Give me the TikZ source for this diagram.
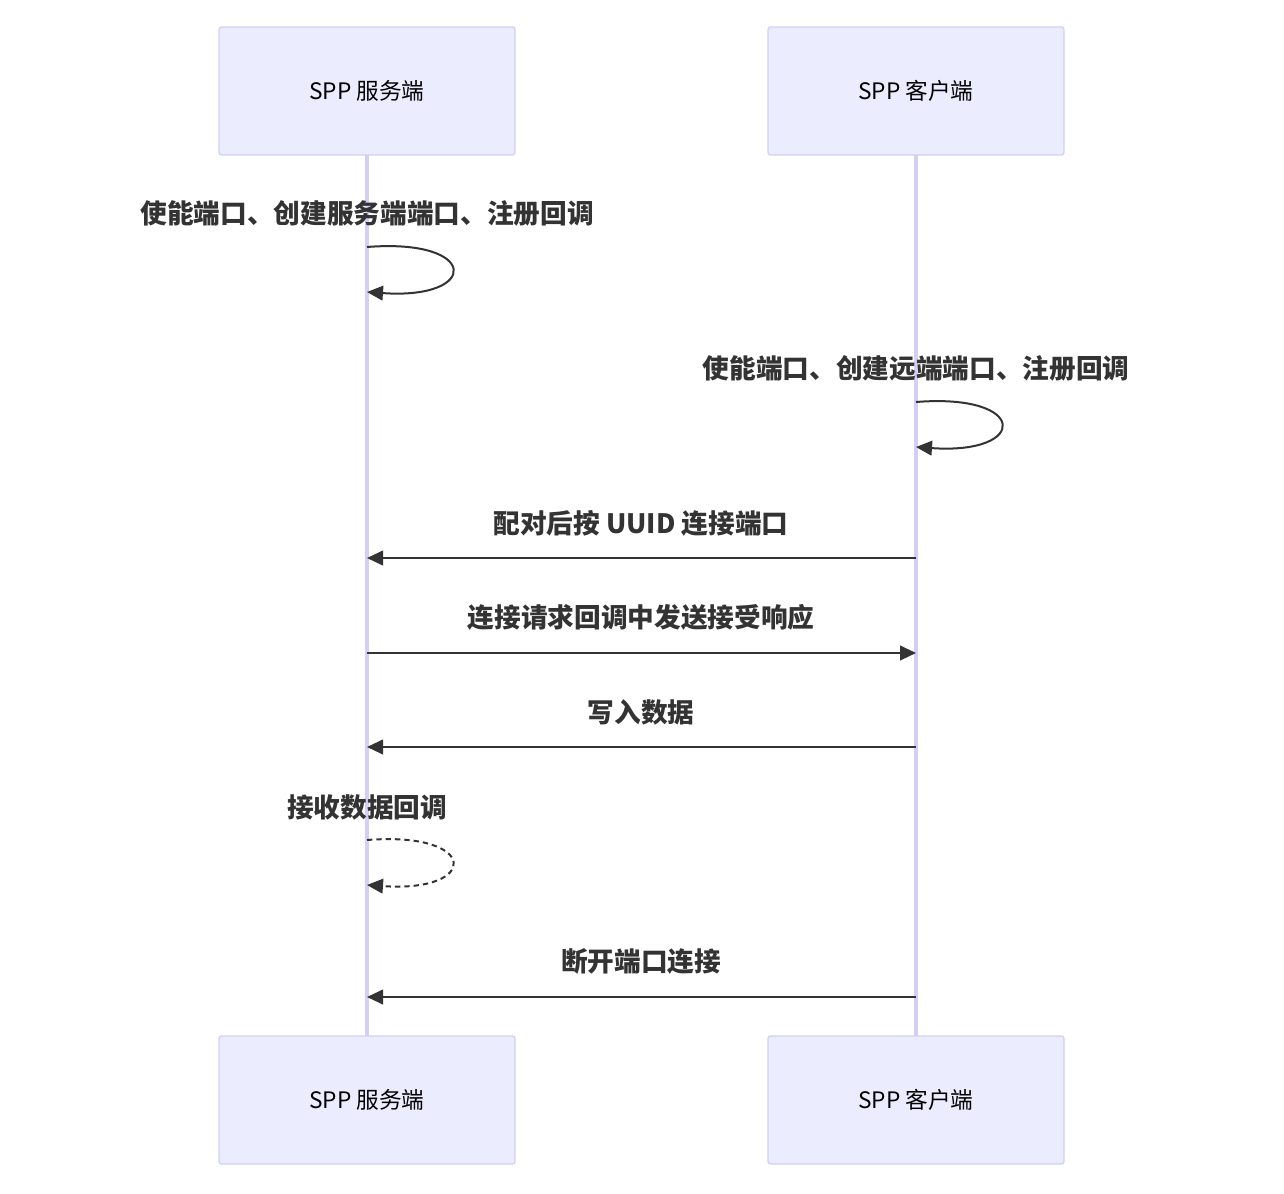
\documentclass[tikz,border=0pt]{standalone}
\usepackage{fontspec}
\setmainfont{Noto Sans CJK SC}
\usetikzlibrary{arrows.meta}
\definecolor{actfill}{HTML}{ECECFF}
\definecolor{actline}{HTML}{D3CFF5}
\definecolor{msgcol}{HTML}{333333}
\tikzset{
  actor/.style={draw=actline, fill=actfill, rounded corners=2pt, line width=1pt,
    minimum width=222pt, minimum height=96pt, font=\fontsize{17}{20}\selectfont, text=black},
  msg/.style={draw=msgcol, line width=1.5pt, -{Triangle[length=12pt,width=11pt]}},
  lbl/.style={font=\fontsize{20}{24}\selectfont\bfseries, text=msgcol},
}
\begin{document}
\begin{tikzpicture}[x=0.75pt,y=-0.75pt]
            \useasboundingbox (0,0) rectangle (1284,1194);

            % lifelines
            \draw[actline, line width=3pt] (367,155) -- (367,1037);
            \draw[actline, line width=3pt] (916,155) -- (916,1037);

            \node[actor] (srvTop) at (367,91) {SPP 服务端};
            \node[actor] (cliTop) at (916,91) {SPP 客户端};
            \node[actor] (srvBot) at (367,1100) {SPP 服务端};
            \node[actor] (cliBot) at (916,1100) {SPP 客户端};

            \coordinate (s1) at (367,247);
            \coordinate (s1e) at (367,292);
            \coordinate (c1) at (916,402);
            \coordinate (c1e) at (916,447);
            \coordinate (s3) at (367,840);
            \coordinate (s3e) at (367,885);
            \coordinate (c2) at (916,558);  \coordinate (s2) at (367,558);
            \coordinate (s4) at (367,653);  \coordinate (c4) at (916,653);
            \coordinate (c5) at (916,747);  \coordinate (s5) at (367,747);
            \coordinate (c6) at (916,997);  \coordinate (s6) at (367,997);

            \node[lbl] (lA) at (367,213) {使能端口、创建服务端端口、注册回调};
            \draw[msg] (s1) .. controls (480,238) and (480,300) .. (s1e);

            \node[lbl] (lB) at (916,368) {使能端口、创建远端端口、注册回调};
            \draw[msg] (c1) .. controls (1029,393) and (1029,455) .. (c1e);

            \node[lbl] (lC) at (641,523) {配对后按 UUID 连接端口};
            \draw[msg] (c2) -- (s2);

            \node[lbl] (lD) at (641,617) {连接请求回调中发送接受响应};
            \draw[msg] (s4) -- (c4);

            \node[lbl] (lE) at (641,712) {写入数据};
            \draw[msg] (c5) -- (s5);

            \node[lbl] (lF) at (367,807) {接收数据回调};
            \draw[msg, dash pattern=on 4pt off 3pt] (s3) .. controls (480,831) and (480,893) .. (s3e);

            \node[lbl] (lG) at (641,961) {断开端口连接};
            \draw[msg] (c6) -- (s6);
\end{tikzpicture}
\end{document}
